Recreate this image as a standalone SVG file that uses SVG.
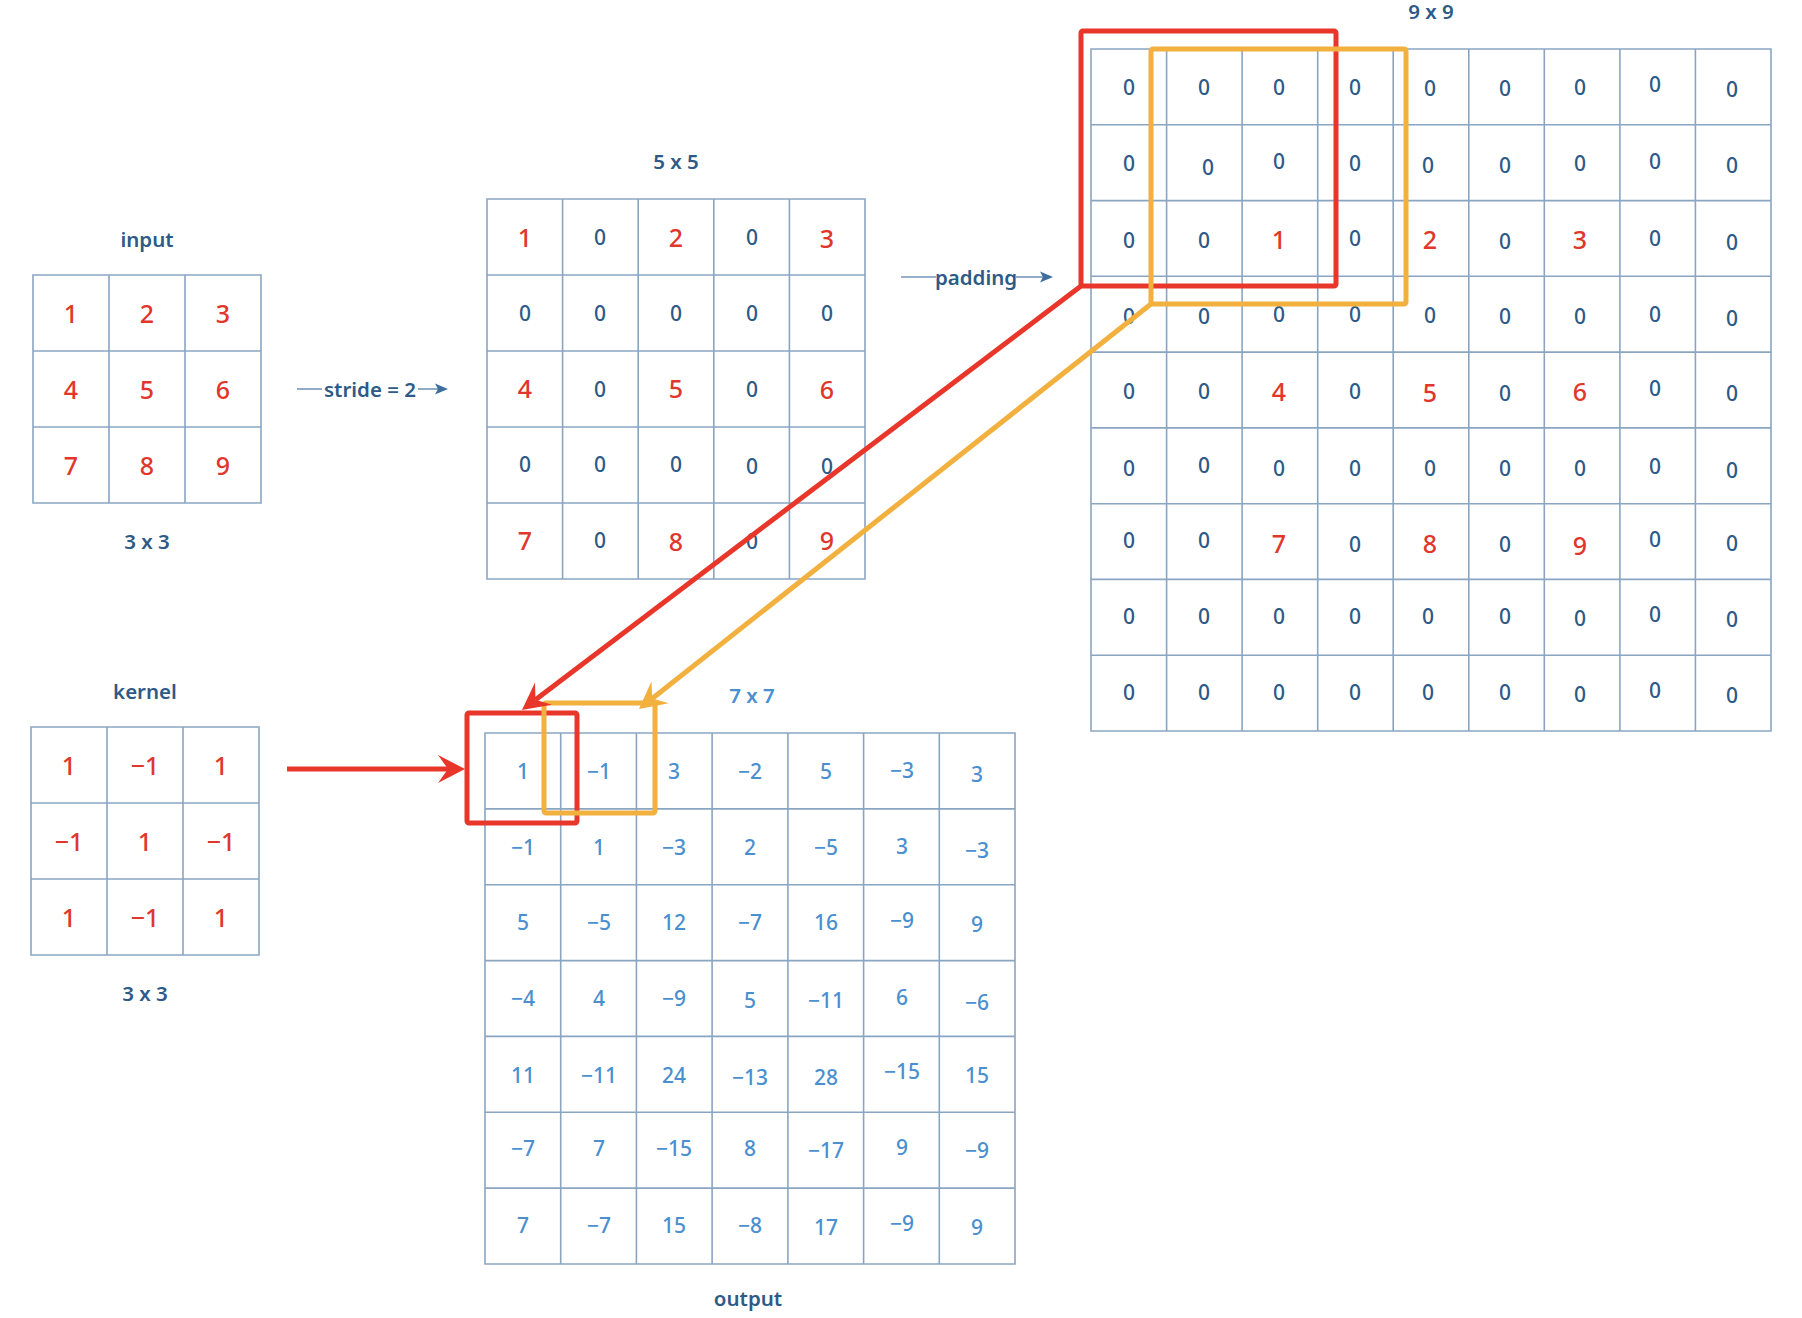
<svg xmlns="http://www.w3.org/2000/svg" width="1802" height="1318" viewBox="0 0 1802 1318">
<style>
text{font-family:"Noto Sans","Open Sans","DejaVu Sans",sans-serif;text-anchor:middle;dominant-baseline:central}
.g{fill:none;stroke:#8aa5c2;stroke-width:1.6}
.z{fill:#2e5a87;font-size:21px;font-weight:500}
.r{fill:#e0362b;font-size:25px;font-weight:500}
.o{fill:#4a8fcf;font-size:21px;font-weight:500}
.lb{fill:#2e5a87;font-size:20.5px;font-weight:600}
.lo{fill:#4a8fcf;font-size:20.5px;font-weight:600}
.thin{fill:none;stroke:#7595b8;stroke-width:1.6}
.hl{fill:none;stroke-width:5;stroke-linejoin:round}
</style>
<defs>
<marker id="ah" markerUnits="userSpaceOnUse" markerWidth="16" markerHeight="14" viewBox="-4 -7 16 14" refX="0" refY="0" orient="auto">
<path d="M10,0 L-3,-5.5 L0,0 L-3,5.5 Z" fill="#3d6e9e"/>
</marker>
<marker id="redh" markerUnits="userSpaceOnUse" markerWidth="34" markerHeight="34" viewBox="-12 -17 34 34" refX="0" refY="0" orient="auto">
<path d="M17,0 L-10,-14 L0,0 L-10,14 Z" fill="#e8372a"/>
</marker>
<marker id="orh" markerUnits="userSpaceOnUse" markerWidth="34" markerHeight="34" viewBox="-12 -17 34 34" refX="0" refY="0" orient="auto">
<path d="M17,0 L-10,-14 L0,0 L-10,14 Z" fill="#f2b03f"/>
</marker>
</defs>

<g id="input">
<text class="lb" x="147" y="239">input</text>
<path class="g" d="M33 275H261V503H33Z M109 275V503 M185 275V503 M33 351H261 M33 427H261"/>
<text class="r" x="71" y="313">1</text><text class="r" x="147" y="313">2</text><text class="r" x="223" y="313">3</text>
<text class="r" x="71" y="389">4</text><text class="r" x="147" y="389">5</text><text class="r" x="223" y="389">6</text>
<text class="r" x="71" y="465">7</text><text class="r" x="147" y="465">8</text><text class="r" x="223" y="465">9</text>
<text class="lb" x="147" y="541">3 x 3</text>
</g>

<g id="kernel">
<text class="lb" x="145" y="691">kernel</text>
<path class="g" d="M31 727H259V955H31Z M107 727V955 M183 727V955 M31 803H259 M31 879H259"/>
<text class="r" x="69" y="765">1</text><text class="r" x="145" y="765">−1</text><text class="r" x="221" y="765">1</text>
<text class="r" x="69" y="841">−1</text><text class="r" x="145" y="841">1</text><text class="r" x="221" y="841">−1</text>
<text class="r" x="69" y="917">1</text><text class="r" x="145" y="917">−1</text><text class="r" x="221" y="917">1</text>
<text class="lb" x="145" y="993">3 x 3</text>
</g>

<g id="strided">
<text class="lb" x="676" y="161">5 x 5</text>
<path class="g" d="M487 199H865V579H487Z M562.6 199V579 M638.2 199V579 M713.8 199V579 M789.4 199V579 M487 275H865 M487 351H865 M487 427H865 M487 503H865"/>
<text class="r" x="525" y="237">1</text><text class="z" x="600" y="237">0</text><text class="r" x="676" y="237">2</text><text class="z" x="752" y="237">0</text><text class="r" x="827" y="238">3</text>
<text class="z" x="525" y="313">0</text><text class="z" x="600" y="313">0</text><text class="z" x="676" y="313">0</text><text class="z" x="752" y="313">0</text><text class="z" x="827" y="313">0</text>
<text class="r" x="525" y="388">4</text><text class="z" x="600" y="389">0</text><text class="r" x="676" y="388">5</text><text class="z" x="752" y="389">0</text><text class="r" x="827" y="389">6</text>
<text class="z" x="525" y="464">0</text><text class="z" x="600" y="464">0</text><text class="z" x="676" y="464">0</text><text class="z" x="752" y="466">0</text><text class="z" x="827" y="466">0</text>
<text class="r" x="525" y="540">7</text><text class="z" x="600" y="540">0</text><text class="r" x="676" y="541">8</text><text class="z" x="752" y="541">0</text><text class="r" x="827" y="540">9</text>
</g>

<g id="padded">
<text class="lb" x="1431" y="11">9 x 9</text>
<path class="g" d="M1091 49H1771V731H1091Z M1166.6 49V731 M1242.1 49V731 M1317.7 49V731 M1393.2 49V731 M1468.8 49V731 M1544.3 49V731 M1619.9 49V731 M1695.4 49V731 M1091 124.8H1771 M1091 200.6H1771 M1091 276.3H1771 M1091 352.1H1771 M1091 427.9H1771 M1091 503.7H1771 M1091 579.4H1771 M1091 655.2H1771"/>
<text class="z" x="1129" y="87">0</text><text class="z" x="1204" y="87">0</text><text class="z" x="1279" y="87">0</text><text class="z" x="1355" y="87">0</text><text class="z" x="1430" y="88">0</text><text class="z" x="1505" y="88">0</text><text class="z" x="1580" y="87">0</text><text class="z" x="1655" y="84">0</text><text class="z" x="1732" y="89">0</text>
<text class="z" x="1129" y="163">0</text><text class="z" x="1208" y="167">0</text><text class="z" x="1279" y="161">0</text><text class="z" x="1355" y="163">0</text><text class="z" x="1428" y="165">0</text><text class="z" x="1505" y="165">0</text><text class="z" x="1580" y="163">0</text><text class="z" x="1655" y="161">0</text><text class="z" x="1732" y="165">0</text>
<text class="z" x="1129" y="240">0</text><text class="z" x="1204" y="240">0</text><text class="r" x="1279" y="239">1</text><text class="z" x="1355" y="238">0</text><text class="r" x="1430" y="239">2</text><text class="z" x="1505" y="241">0</text><text class="r" x="1580" y="239">3</text><text class="z" x="1655" y="238">0</text><text class="z" x="1732" y="242">0</text>
<text class="z" x="1129" y="316">0</text><text class="z" x="1204" y="316">0</text><text class="z" x="1279" y="314">0</text><text class="z" x="1355" y="314">0</text><text class="z" x="1430" y="315">0</text><text class="z" x="1505" y="316">0</text><text class="z" x="1580" y="316">0</text><text class="z" x="1655" y="314">0</text><text class="z" x="1732" y="318">0</text>
<text class="z" x="1129" y="391">0</text><text class="z" x="1204" y="391">0</text><text class="r" x="1279" y="391">4</text><text class="z" x="1355" y="391">0</text><text class="r" x="1430" y="392">5</text><text class="z" x="1505" y="393">0</text><text class="r" x="1580" y="391">6</text><text class="z" x="1655" y="388">0</text><text class="z" x="1732" y="393">0</text>
<text class="z" x="1129" y="468">0</text><text class="z" x="1204" y="465">0</text><text class="z" x="1279" y="468">0</text><text class="z" x="1355" y="468">0</text><text class="z" x="1430" y="468">0</text><text class="z" x="1505" y="468">0</text><text class="z" x="1580" y="468">0</text><text class="z" x="1655" y="466">0</text><text class="z" x="1732" y="470">0</text>
<text class="z" x="1129" y="540">0</text><text class="z" x="1204" y="540">0</text><text class="r" x="1279" y="543">7</text><text class="z" x="1355" y="544">0</text><text class="r" x="1430" y="543">8</text><text class="z" x="1505" y="544">0</text><text class="r" x="1580" y="545">9</text><text class="z" x="1655" y="539">0</text><text class="z" x="1732" y="543">0</text>
<text class="z" x="1129" y="616">0</text><text class="z" x="1204" y="616">0</text><text class="z" x="1279" y="616">0</text><text class="z" x="1355" y="616">0</text><text class="z" x="1428" y="616">0</text><text class="z" x="1505" y="616">0</text><text class="z" x="1580" y="618">0</text><text class="z" x="1655" y="614">0</text><text class="z" x="1732" y="619">0</text>
<text class="z" x="1129" y="692">0</text><text class="z" x="1204" y="692">0</text><text class="z" x="1279" y="692">0</text><text class="z" x="1355" y="692">0</text><text class="z" x="1428" y="692">0</text><text class="z" x="1505" y="692">0</text><text class="z" x="1580" y="694">0</text><text class="z" x="1655" y="690">0</text><text class="z" x="1732" y="695">0</text>
</g>

<g id="output">
<text class="lo" x="752" y="695">7 x 7</text>
<path class="g" d="M485 733H1015V1264H485Z M560.7 733V1264 M636.4 733V1264 M712.1 733V1264 M787.9 733V1264 M863.6 733V1264 M939.3 733V1264 M485 808.9H1015 M485 884.7H1015 M485 960.6H1015 M485 1036.4H1015 M485 1112.3H1015 M485 1188.1H1015"/>
<text class="o" x="523" y="771">1</text><text class="o" x="599" y="771">−1</text><text class="o" x="674" y="771">3</text><text class="o" x="750" y="771">−2</text><text class="o" x="826" y="771">5</text><text class="o" x="902" y="770">−3</text><text class="o" x="977" y="774">3</text>
<text class="o" x="523" y="847">−1</text><text class="o" x="599" y="847">1</text><text class="o" x="674" y="847">−3</text><text class="o" x="750" y="847">2</text><text class="o" x="826" y="847">−5</text><text class="o" x="902" y="846">3</text><text class="o" x="977" y="850">−3</text>
<text class="o" x="523" y="922">5</text><text class="o" x="599" y="922">−5</text><text class="o" x="674" y="922">12</text><text class="o" x="750" y="922">−7</text><text class="o" x="826" y="922">16</text><text class="o" x="902" y="920">−9</text><text class="o" x="977" y="924">9</text>
<text class="o" x="523" y="998">−4</text><text class="o" x="599" y="998">4</text><text class="o" x="674" y="998">−9</text><text class="o" x="750" y="1000">5</text><text class="o" x="826" y="1000">−11</text><text class="o" x="902" y="997">6</text><text class="o" x="977" y="1002">−6</text>
<text class="o" x="523" y="1075">11</text><text class="o" x="599" y="1075">−11</text><text class="o" x="674" y="1075">24</text><text class="o" x="750" y="1077">−13</text><text class="o" x="826" y="1077">28</text><text class="o" x="902" y="1071">−15</text><text class="o" x="977" y="1075">15</text>
<text class="o" x="523" y="1148">−7</text><text class="o" x="599" y="1148">7</text><text class="o" x="674" y="1148">−15</text><text class="o" x="750" y="1148">8</text><text class="o" x="826" y="1150">−17</text><text class="o" x="902" y="1147">9</text><text class="o" x="977" y="1150">−9</text>
<text class="o" x="523" y="1225">7</text><text class="o" x="599" y="1225">−7</text><text class="o" x="674" y="1225">15</text><text class="o" x="750" y="1225">−8</text><text class="o" x="826" y="1227">17</text><text class="o" x="902" y="1223">−9</text><text class="o" x="977" y="1227">9</text>
<text class="lb" x="748" y="1298">output</text>
</g>

<g id="connectors">
<path class="thin" d="M297 389H322"/>
<text class="lb" x="370" y="389">stride = 2</text>
<path class="thin" d="M418 389H438" marker-end="url(#ah)"/>
<path class="thin" d="M901 277H936"/>
<text class="lb" x="976" y="277">padding</text>
<path class="thin" d="M1016 277H1043" marker-end="url(#ah)"/>
<rect class="hl" stroke="#e8372a" x="1081" y="31" width="255" height="255" rx="2"/>
<rect class="hl" stroke="#f2b03f" x="1151" y="49" width="255" height="255" rx="2"/>
<rect class="hl" stroke="#e8372a" x="467" y="713" width="110" height="110" rx="2"/>
<rect class="hl" stroke="#f2b03f" x="544" y="703" width="111" height="110" rx="2"/>
<path fill="none" stroke="#e8372a" stroke-width="5" d="M1081 286L535.5 699.7" marker-end="url(#redh)"/>
<path fill="none" stroke="#f2b03f" stroke-width="5" d="M1151 304L652.3 698.5" marker-end="url(#orh)"/>
<path fill="none" stroke="#e8372a" stroke-width="5" d="M287 769H448" marker-end="url(#redh)"/>
</g>
</svg>
